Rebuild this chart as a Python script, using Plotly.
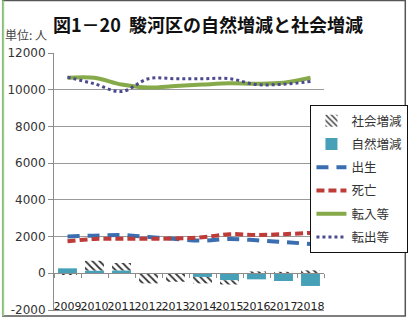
import plotly.graph_objects as go

# 駿河区の人口動態（単位: 人）
years = ["2009", "2010", "2011", "2012", "2013", "2014", "2015", "2016", "2017", "2018"]
natural_change = [270, 150, 160, -30, -30, -200, -380, -330, -420, -690]   # 自然増減
social_change = [-50, 530, 400, -520, -430, -350, -230, 100, 80, 160]      # 社会増減
births = [2010, 2050, 2090, 1980, 1870, 1780, 1870, 1800, 1700, 1600]      # 出生
deaths = [1740, 1870, 1880, 1880, 1900, 1960, 2130, 2090, 2130, 2200]      # 死亡
move_in = [10650, 10650, 10280, 10120, 10200, 10280, 10350, 10330, 10380, 10650]   # 転入等
move_out = [10680, 10320, 9900, 10600, 10600, 10600, 10600, 10280, 10300, 10450]   # 転出等
y_ticks = [-2000, 0, 2000, 4000, 6000, 8000, 10000, 12000]

idx = list(range(len(years)))
bounds = [i - 0.5 for i in range(len(years) + 1)]

JP = "Noto Sans CJK JP"
NUM = "DejaVu Sans"

fig = go.Figure()

# stacked columns: natural change at the base, social change on top
fig.add_trace(go.Bar(
    x=idx, y=natural_change, name="自然増減", legendrank=2, legendgroup="g2",
    marker=dict(color="#45A0B8", line=dict(width=0)),
))
fig.add_trace(go.Bar(
    x=idx, y=social_change, name="社会増減", legendrank=1, legendgroup="g1",
    marker=dict(color="white", line=dict(width=0),
                pattern=dict(shape="\\", fgcolor="#333333", bgcolor="white",
                             size=5, solidity=0.35)),
))

# smoothed lines
fig.add_trace(go.Scatter(
    x=idx, y=births, name="出生", legendrank=3, legendgroup="g3", mode="lines",
    line=dict(color="#3A6EB0", width=4, dash="12px,8px", shape="spline"),
))
fig.add_trace(go.Scatter(
    x=idx, y=deaths, name="死亡", legendrank=4, legendgroup="g4", mode="lines",
    line=dict(color="#BE3B38", width=4, dash="8px,4px", shape="spline"),
))
fig.add_trace(go.Scatter(
    x=idx, y=move_in, name="転入等", legendrank=5, legendgroup="g5", mode="lines",
    line=dict(color="#86A94A", width=4, shape="spline"),
))
fig.add_trace(go.Scatter(
    x=idx, y=move_out, name="転出等", legendrank=6, legendgroup="g6", mode="lines",
    line=dict(color="#4B4A8E", width=3, dash="3px,3px", shape="spline"),
))

# carriers for the zero-level axis and the year-label axis
for ax in ("x2", "x3"):
    fig.add_trace(go.Scatter(
        x=[0], y=[0], xaxis=ax, mode="markers", marker=dict(opacity=0),
        showlegend=False, hoverinfo="skip",
    ))

L, R, T, B = 54, 85, 53, 10
W, H = 418, 320
pw, ph = W - L - R, H - T - B


def px_x(v):
    return (v - L) / pw


def px_y(v):
    return (H - B - v) / ph


xrange_ = [-0.5, len(years) - 0.5]

fig.update_layout(
    template="none",
    width=W, height=H,
    margin=dict(l=L, r=R, t=T, b=B, pad=0),
    paper_bgcolor="white", plot_bgcolor="white",
    barmode="relative", bargap=0.3,
    showlegend=True,
    legend=dict(
        x=px_x(319), y=px_y(105), xanchor="left", yanchor="top",
        bordercolor="#111111", borderwidth=1, bgcolor="white",
        font=dict(family=JP, size=12.5, color="#333333"),
        traceorder="grouped", tracegroupgap=4,
    ),
    # bottom frame line of the plot area
    xaxis=dict(
        range=xrange_, showticklabels=False, ticks="", automargin=False,
        showgrid=False, zeroline=False,
        showline=True, linecolor="#8C8C8C", linewidth=1,
    ),
    # category axis crossing at zero
    xaxis2=dict(
        overlaying="x", anchor="free", position=2000 / 14000,
        range=xrange_, tickmode="array", tickvals=bounds,
        showticklabels=False, ticks="outside", ticklen=4, tickcolor="#8C8C8C",
        showline=True, linecolor="#8C8C8C", linewidth=1,
        showgrid=False, zeroline=False, automargin=False,
    ),
    # year labels sitting just above the bottom edge
    xaxis3=dict(
        overlaying="x", anchor="free", position=px_y(298),
        range=xrange_, tickmode="array", tickvals=idx, ticktext=years,
        tickangle=0, ticks="", showline=False, showgrid=False,
        zeroline=False, automargin=False,
        tickfont=dict(family=NUM, size=11, color="#222222"),
    ),
    yaxis=dict(
        range=[-2000, 12000], tickmode="array", tickvals=y_ticks,
        ticktext=[str(v) for v in y_ticks], automargin=False,
        ticks="outside", ticklen=5, tickcolor="#8C8C8C",
        showline=True, linecolor="#8C8C8C", linewidth=1,
        showgrid=True, gridcolor="#9A9A9A", gridwidth=1, zeroline=False,
        tickfont=dict(family=NUM, size=12, color="#333333"),
    ),
    annotations=[
        dict(text="<b>図1－20  駿河区の自然増減と社会増減</b>",
             xref="paper", yref="paper", x=px_x(213), y=px_y(24),
             xanchor="center", yanchor="middle", showarrow=False,
             font=dict(family=JP, size=18, color="#111111")),
        dict(text="単位: 人", xref="paper", yref="paper",
             x=px_x(1), y=px_y(34), xanchor="left", yanchor="middle",
             showarrow=False, font=dict(family=JP, size=12, color="#444444")),
    ],
    shapes=[
        dict(type="rect", xref="paper", yref="paper",
             x0=px_x(1), x1=px_x(417), y0=px_y(316), y1=px_y(0.5),
             line=dict(color="#555555", width=1.5), layer="below"),
        dict(type="line", xref="paper", yref="paper",
             x0=px_x(1.5), x1=px_x(1.5), y0=px_y(316), y1=px_y(0.5),
             line=dict(color="#9BD08A", width=2)),
    ],
)

fig.write_html("out.html")
